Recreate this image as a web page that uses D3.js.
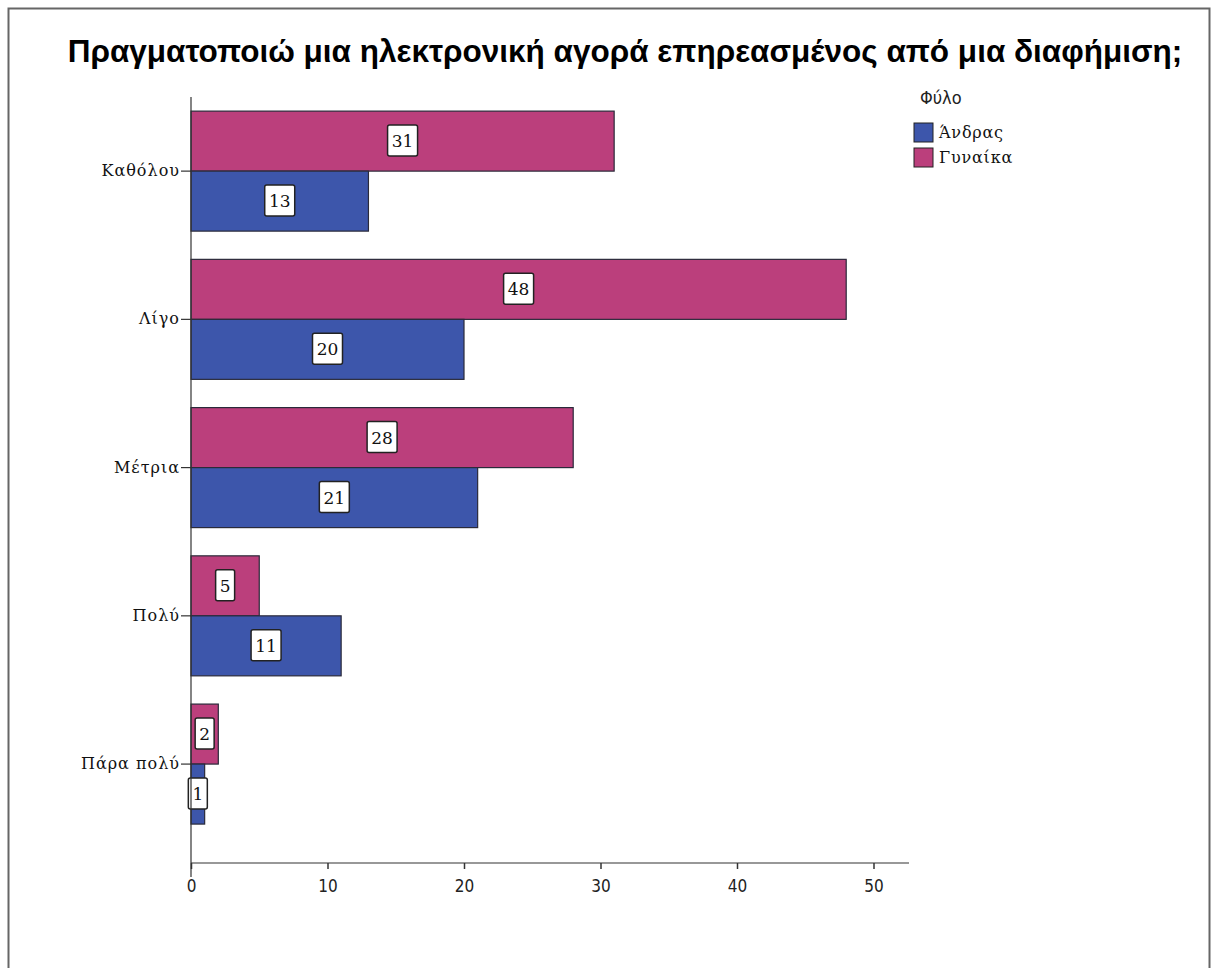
<!DOCTYPE html>
<html><head><meta charset="utf-8">
<script src="https://cdn.jsdelivr.net/npm/d3@7"></script>
<style>body{margin:0;background:#fff}svg{display:block}</style>
</head><body>
<svg id="c" width="1213" height="968"></svg>
<script>
const title = "Πραγματοποιώ μια ηλεκτρονική αγορά επηρεασμένος από μια διαφήμιση;";
const categories = ["Καθόλου", "Λίγο", "Μέτρια", "Πολύ", "Πάρα πολύ"];
const seriesNames = ["Γυναίκα", "Άνδρας"];
const women = [31, 48, 28, 5, 2];
const men = [13, 20, 21, 11, 1];
const xTicks = [0, 10, 20, 30, 40, 50];
const legendTitle = "Φύλο";
const legendItems = ["Άνδρας", "Γυναίκα"];
const colors = {"Άνδρας": "#3d56ab", "Γυναίκα": "#bb3f7c"};

const svg = d3.select("#c");
svg.append("rect").attr("x", 8.5).attr("y", 8.5).attr("width", 1201).attr("height", 1000)
  .attr("fill", "#fff").attr("stroke", "#666").attr("stroke-width", 2);

const x = d3.scaleLinear().domain([0, 50]).range([191, 873.5]);
const y = d3.scaleBand().domain(categories).range([97, 838.2]).padding(0);
const barH = 60;
const axisY = 863;

const data = [];
categories.forEach((c, i) => {
  data.push({cat: c, s: "Γυναίκα", v: women[i], off: -barH});
  data.push({cat: c, s: "Άνδρας", v: men[i], off: 0});
});

const g = svg.append("g");
g.selectAll("rect.bar").data(data).join("rect").attr("class", "bar")
  .attr("x", x(0)).attr("y", d => y(d.cat) + y.bandwidth() / 2 + d.off)
  .attr("width", d => x(d.v) - x(0)).attr("height", barH)
  .attr("fill", d => colors[d.s]).attr("stroke", "#2a2a3a").attr("stroke-width", 1.2);

// value labels
const lab = g.selectAll("g.lab").data(data).join("g").attr("class", "lab")
  .attr("transform", d => `translate(${(x(0) + x(d.v)) / 2},${y(d.cat) + y.bandwidth() / 2 + d.off + barH / 2})`);
lab.append("rect")
  .attr("x", d => String(d.v).length > 1 ? -15 : -9.5).attr("y", -16)
  .attr("width", d => String(d.v).length > 1 ? 30 : 19).attr("height", 31)
  .attr("rx", 2).attr("fill", "#fff").attr("stroke", "#222").attr("stroke-width", 1.5);
lab.append("text").attr("text-anchor", "middle").attr("dy", "0.36em")
  .attr("font-family", "DejaVu Serif, serif").attr("font-size", 17).attr("fill", "#111")
  .text(d => d.v);

// axes
const xAxis = d3.axisBottom(x).tickValues(xTicks).tickSize(6).tickSizeOuter(0);
const xg = svg.append("g").attr("transform", `translate(0,${axisY})`).call(xAxis);
xg.select(".domain").remove();
xg.append("line").attr("x1", 191).attr("x2", 909).attr("stroke", "#333").attr("stroke-width", 1.2);
xg.selectAll(".tick line").attr("stroke", "#333").attr("stroke-width", 1.5);
xg.selectAll(".tick text").attr("font-family", "DejaVu Sans Condensed, DejaVu Sans, sans-serif")
  .attr("font-size", 17).attr("fill", "#222").attr("y", 17);

const yAxis = d3.axisLeft(y).tickSize(10).tickSizeOuter(0);
const yg = svg.append("g").attr("transform", `translate(${x(0)},0)`).call(yAxis);
yg.select(".domain").remove();
yg.append("line").attr("y1", 97).attr("y2", 877).attr("stroke", "#333").attr("stroke-width", 1.2);
yg.selectAll(".tick line").attr("stroke", "#333").attr("stroke-width", 1.2);
yg.selectAll(".tick text").attr("font-family", "DejaVu Serif, serif")
  .attr("font-size", 16).attr("letter-spacing", 1).attr("fill", "#111").attr("x", -11);

// title
svg.append("text").attr("x", 625).attr("y", 62).attr("text-anchor", "middle")
  .attr("font-family", "Liberation Sans, Arial, sans-serif").attr("font-size", 31.5).attr("font-weight", "bold")
  .attr("fill", "#000").text(title);

// legend
svg.append("text").attr("x", 920).attr("y", 104).attr("font-family", "DejaVu Sans Condensed, DejaVu Sans, sans-serif")
  .attr("font-size", 18).attr("fill", "#222").text(legendTitle);
const lg = svg.selectAll("g.leg").data(legendItems).join("g").attr("class", "leg")
  .attr("transform", (d, i) => `translate(914,${123 + i * 25})`);
lg.append("rect").attr("width", 19).attr("height", 19).attr("fill", d => colors[d])
  .attr("stroke", "#222").attr("stroke-width", 1);
lg.append("text").attr("x", 25).attr("y", 15).attr("font-family", "DejaVu Serif, serif")
  .attr("font-size", 16).attr("letter-spacing", 0.8).attr("fill", "#111").text(d => d);
</script>
</body></html>
